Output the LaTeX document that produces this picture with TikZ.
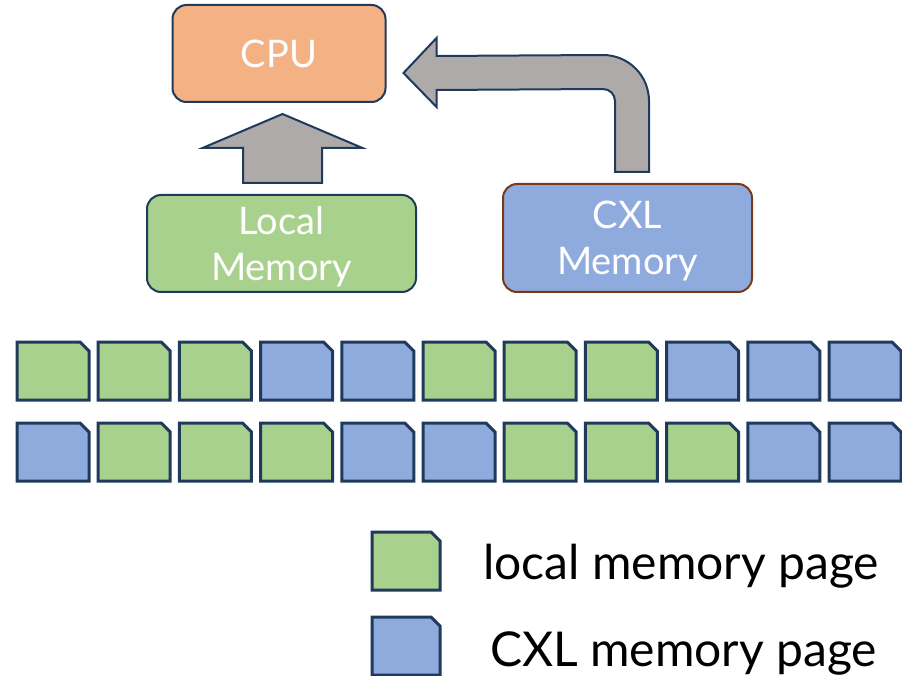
\documentclass[tikz,border=0pt]{standalone}
\usepackage{fontspec}
\setmainfont{Lato}
\usetikzlibrary{
    calc,
    positioning
}
\definecolor{cpuorange}{HTML}{F4B183}
\definecolor{localgreen}{HTML}{A9D18E}
\definecolor{cxlblue}{HTML}{8FAADC}
\definecolor{arrowgray}{HTML}{AEAAAA}
\definecolor{edgeblue}{HTML}{1F3A5A}
\definecolor{edgebrown}{HTML}{7B3A17}

\begin{document}
\begin{tikzpicture}[
    x=1pt,
    y=-1pt,
    membox/.style = {
        draw=edgeblue,
        line width=2pt,
        rounded corners=14pt,
        text=white,
        align=center,
        inner sep=0pt,
        font=\fontsize{38}{46}\selectfont
    },
    pagebox/.style = {
        inner sep=0pt,
        outer sep=0pt,
        minimum width=72pt,
        minimum height=58pt
    },
    pageedge/.style = {
        draw=edgeblue,
        line width=3pt,
        line join=miter
    },
    blockarrow/.style = {
        draw=edgeblue,
        fill=arrowgray,
        line width=2pt,
        line join=miter
    },
    legendtext/.style = {
        anchor=west,
        inner sep=0pt,
        font=\fontsize{48}{50}\selectfont
    }
]
    \useasboundingbox (0,0) rectangle (902,676);

    % Memory hierarchy
    \node [membox, fill=cpuorange, minimum width=213pt, minimum height=97pt]
        (cpu) at (279,53.5) {CPU};
    \node [membox, fill=localgreen, minimum width=269pt, minimum height=97pt,
        text depth=0pt]
        (local_mem) at (281.5,243.5) {Local\\Memory};
    \node [membox, fill=cxlblue, draw=edgebrown, minimum width=249pt, minimum height=108pt,
        text depth=0pt]
        (cxl_mem) at (627.5,238) {CXL\\Memory};

    \coordinate (up_tail) at ($(local_mem.north)+(1,-11)$);
    \coordinate (bend_tail) at ($(cxl_mem.north)+(4.5,-11)$);
    \coordinate (bend_tip) at ($(cpu.east)+(17,19.5)$);

    \draw [blockarrow] ($(up_tail)+(-39.5,0)$) -- ++(0,-35) -- ++(-40.5,0)
        -- ($(cpu.south)+(3.5,11)$) -- ($(up_tail)+(80,-35)$) -- ++(-40.5,0)
        -- ++(0,35) -- cycle;

    \draw [blockarrow] ($(bend_tail)+(-17,0)$) -- ++(34,0) -- ++(0,-71)
        arc [start angle=0, end angle=-90, radius=46]
        -- ($(bend_tip)+(33,-17)$) -- ++(0,-18) -- (bend_tip) -- ++(33,34)
        -- ++(0,-17) -- ($(bend_tail)+(-29,-83)$)
        arc [start angle=-90, end angle=0, radius=12] -- cycle;

    % Pages
    \foreach \kind [count=\i from 0] in
        {localgreen,localgreen,localgreen,cxlblue,cxlblue,localgreen,
         localgreen,localgreen,cxlblue,cxlblue,cxlblue} {
        \node [pagebox] (top_page_\i) at (53+81.2*\i,371) {};
        \draw [pageedge, fill=\kind] (top_page_\i.south west)
            |- ($(top_page_\i.north east)+(-9,0)$)
            -- ($(top_page_\i.north east)+(0,9)$)
            -- (top_page_\i.south east) -- cycle;
    }
    \foreach \kind [count=\i from 0] in
        {cxlblue,localgreen,localgreen,localgreen,cxlblue,cxlblue,
         localgreen,localgreen,localgreen,cxlblue,cxlblue} {
        \node [pagebox] (bottom_page_\i) at (53+81.2*\i,452) {};
        \draw [pageedge, fill=\kind] (bottom_page_\i.south west)
            |- ($(bottom_page_\i.north east)+(-9,0)$)
            -- ($(bottom_page_\i.north east)+(0,9)$)
            -- (bottom_page_\i.south east) -- cycle;
    }

    % Legend
    \foreach \kind/\name/\y in {localgreen/legend_local/561,cxlblue/legend_cxl/646} {
        \node [pagebox, minimum width=68pt] (\name) at (406,\y) {};
        \draw [pageedge, fill=\kind] (\name.south west)
            |- ($(\name.north east)+(-9,0)$)
            -- ($(\name.north east)+(0,9)$)
            -- (\name.south east) -- cycle;
    }
    \node [legendtext] (legend_local_text) at (483,566) {local memory page};
    \node [legendtext] (legend_cxl_text) at (490,653) {CXL memory page};
\end{tikzpicture}
\end{document}
